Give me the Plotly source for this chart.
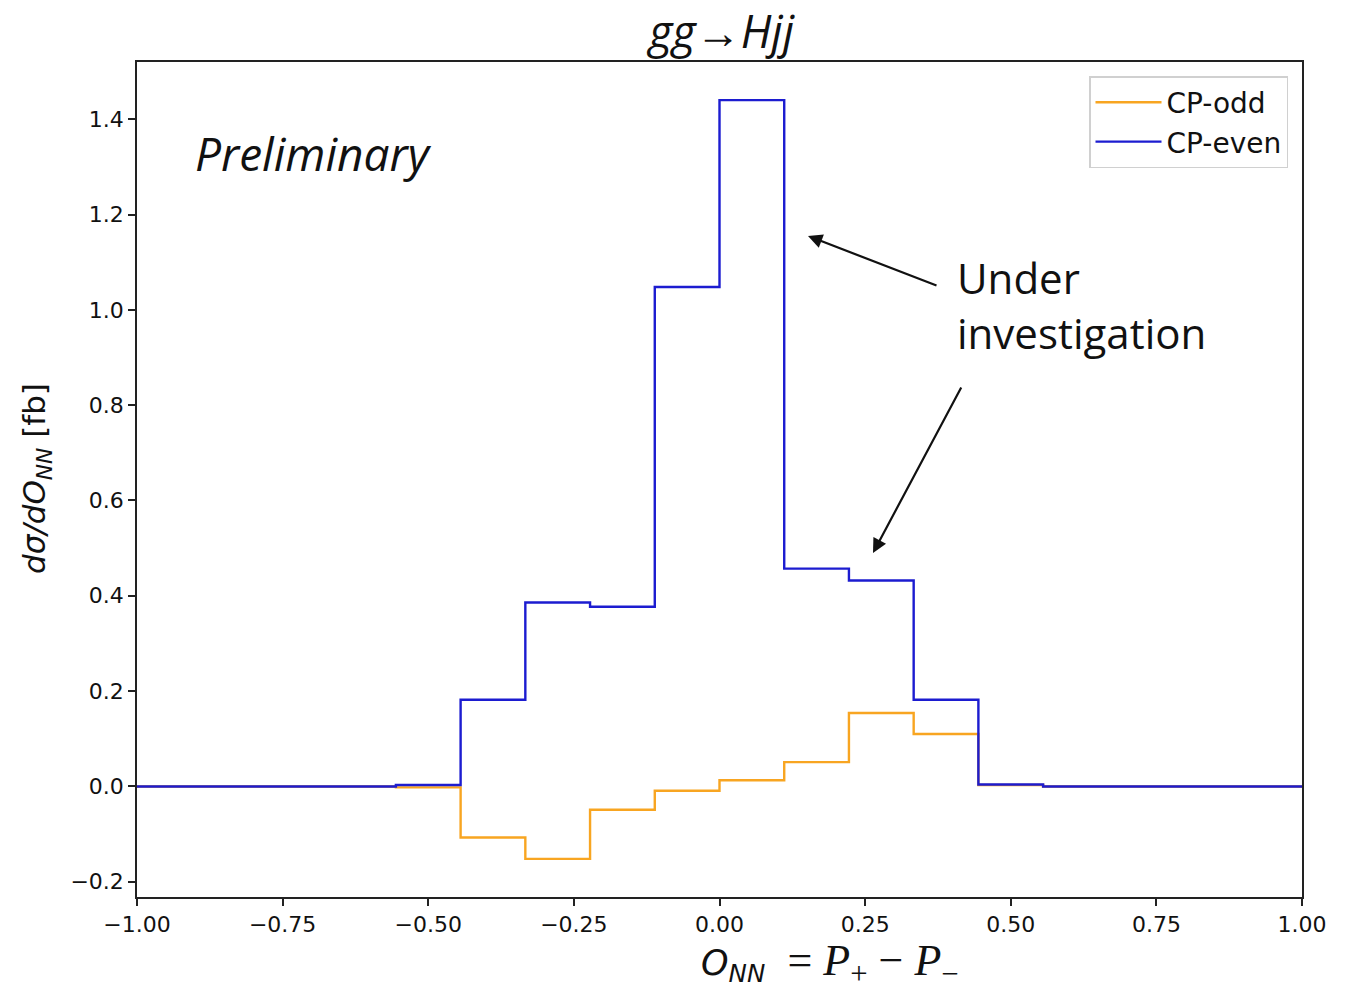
import numpy as np
import plotly.graph_objects as go

# 18 equal-width bins on [-1, 1]
n_bins = 18
bin_edges = np.linspace(-1.0, 1.0, n_bins + 1)

cp_odd = [0.0, 0.0, 0.0, 0.0, -0.002, -0.107, -0.152, -0.049, -0.009,
          0.013, 0.051, 0.154, 0.110, 0.003, 0.0, 0.0, 0.0, 0.0]
cp_even = [0.0, 0.0, 0.0, 0.0, 0.003, 0.182, 0.386, 0.377, 1.048,
           1.440, 0.457, 0.432, 0.182, 0.004, 0.0, 0.0, 0.0, 0.0]

x_ticks = [-1.0, -0.75, -0.5, -0.25, 0.0, 0.25, 0.5, 0.75, 1.0]
y_ticks = [-0.2, 0.0, 0.2, 0.4, 0.6, 0.8, 1.0, 1.2, 1.4]

ORANGE = "#f8a521"
BLUE = "#1c1cd0"


def step_y(vals):
    # repeat last value so the final bin closes at the right edge
    return list(vals) + [vals[-1]]


fig = go.Figure()
fig.add_trace(go.Scatter(x=bin_edges, y=step_y(cp_odd), mode="lines",
                         line=dict(color=ORANGE, width=2.4, shape="hv"),
                         name="CP-odd"))
fig.add_trace(go.Scatter(x=bin_edges, y=step_y(cp_even), mode="lines",
                         line=dict(color=BLUE, width=2.4, shape="hv"),
                         name="CP-even"))

tick_font = dict(family="DejaVu Sans", size=22, color="#111")

W, H = 1355, 990
pl, pr, pt, pb = 137, 53, 62, 93
pw, ph = W - pl - pr, H - pt - pb


def px(xp):
    return (xp - pl) / pw


def py(yp):
    return (H - pb - yp) / ph


fig.update_layout(
    width=W, height=H,
    margin=dict(l=pl, r=pr, t=pt, b=pb),
    paper_bgcolor="white", plot_bgcolor="white",
    showlegend=True,
    legend=dict(x=px(1288), y=py(76), xanchor="right", yanchor="top",
                bgcolor="white", bordercolor="#d0d0d0", borderwidth=1.5,
                font=dict(family="DejaVu Sans", size=28, color="#111"),
                itemwidth=66, tracegroupgap=4),
    xaxis=dict(range=[-1.0, 1.0], tickvals=x_ticks, tickformat=".2f",
               ticks="outside", ticklen=7, tickwidth=1.6, tickcolor="#222",
               showgrid=False, zeroline=False, showline=True, mirror=True,
               linecolor="#222", linewidth=1.6, tickfont=tick_font),
    yaxis=dict(range=[-0.232, 1.52], tickvals=y_ticks, tickformat=".1f",
               ticks="outside", ticklen=7, tickwidth=1.6, tickcolor="#222",
               showgrid=False, zeroline=False, showline=True, mirror=True,
               linecolor="#222", linewidth=1.6, tickfont=tick_font),
)

text_anns = [
    # title
    dict(text="<i>gg</i>→<i>Hjj</i>", x=px(720), y=py(31),
         xanchor="center", yanchor="middle",
         font=dict(family="Open Sans", size=45, color="#111")),
    # watermark
    dict(text="<i>Preliminary</i>", x=px(193), y=py(153),
         xanchor="left", yanchor="middle",
         font=dict(family="Open Sans", size=46, color="#111")),
    dict(text="Under<br>investigation", x=px(955), y=py(305),
         xanchor="left", yanchor="middle", align="left",
         font=dict(family="Open Sans", size=42, color="#111")),
    # axis titles
    dict(text="<i>O</i><sub><i>NN</i></sub>  <span style='font-family:Liberation Serif;font-size:44px'>= <i>P</i><sub>+</sub> − <i>P</i><sub>−</sub></span>",
         x=px(830), y=py(964), xanchor="center", yanchor="middle",
         font=dict(family="DejaVu Sans", size=35, color="#111")),
    dict(text="<i>dσ/dO</i><sub><i>NN</i></sub> [fb]", x=px(36), y=py(479),
         xanchor="center", yanchor="middle", textangle=-90,
         font=dict(family="DejaVu Sans", size=31, color="#111")),
]
for a in text_anns:
    fig.add_annotation(xref="paper", yref="paper", showarrow=False, **a)

# arrows pointing at the features under investigation
for (hx, hy), (tx, ty) in [((808, 236), (938, 286)), ((873, 553), (962, 386))]:
    fig.add_annotation(x=px(hx), y=py(hy), ax=px(tx), ay=py(ty),
                       xref="x domain", yref="y domain",
                       axref="x domain", ayref="y domain",
                       showarrow=True, arrowhead=2, arrowsize=1.3, arrowwidth=2.2,
                       arrowcolor="#111", text="")

fig.write_html("out.html")
